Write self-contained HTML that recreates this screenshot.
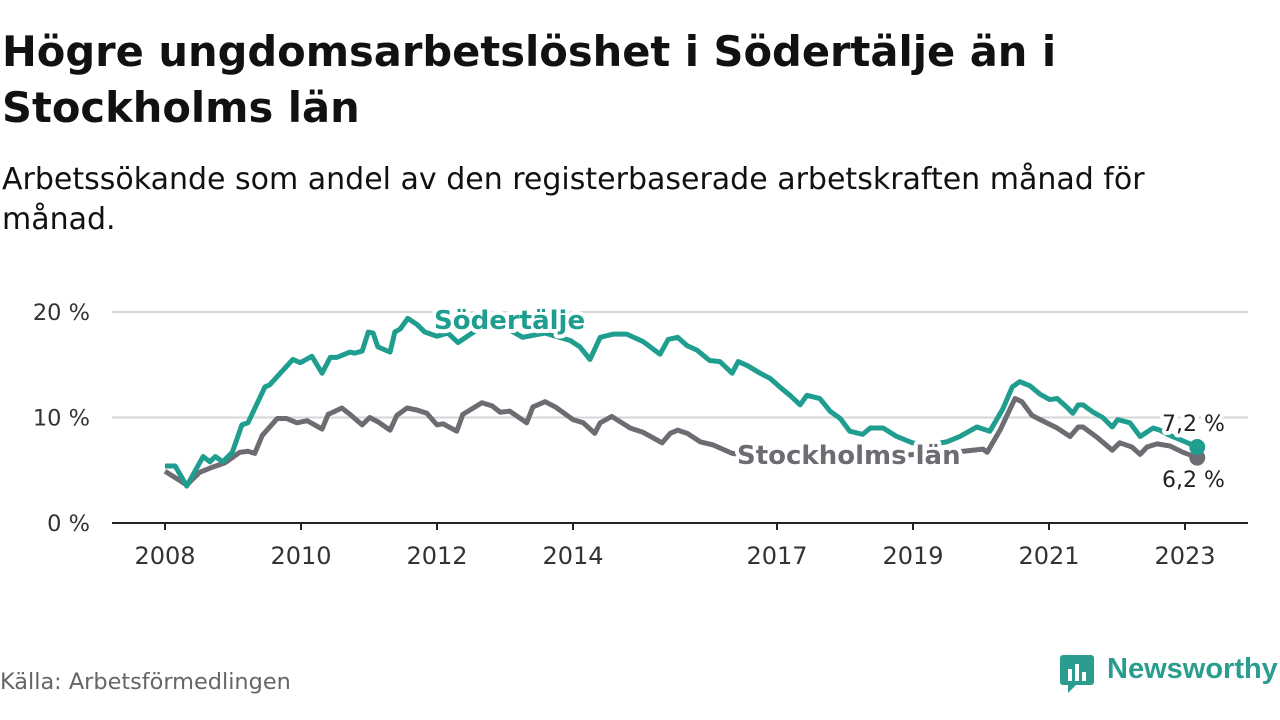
<!DOCTYPE html>
<html><head><meta charset="utf-8">
<style>
body{margin:0;width:1280px;height:720px;background:#fff;font-family:"DejaVu Sans","Liberation Sans",sans-serif;overflow:hidden;position:relative}
h1{position:absolute;left:2px;top:24px;margin:0;font-size:41.6px;line-height:56px;font-weight:bold;color:#111;white-space:nowrap}
.sub{position:absolute;left:2px;top:160px;margin:0;font-size:30px;line-height:40px;color:#111;white-space:nowrap}
.src{position:absolute;left:0;top:669px;font-size:22.4px;color:#666}
.logo{position:absolute;left:1060px;top:655px}
.logo span{position:absolute;left:47px;top:-2px;font-size:29px;font-weight:bold;color:#2a9d8f;font-family:"Liberation Sans",sans-serif}
svg{position:absolute;left:0;top:0}
</style></head><body>
<h1>Högre ungdomsarbetslöshet i Södertälje än i<br>Stockholms län</h1>
<p class="sub">Arbetssökande som andel av den registerbaserade arbetskraften månad för<br>månad.</p>
<svg id="chart" width="1280" height="720"></svg>
<div class="src">Källa: Arbetsförmedlingen</div>
<div class="logo">
<svg width="36" height="38" style="position:relative"><rect x="0" y="0" width="34" height="30" rx="3" fill="#2a9d8f"/><polygon points="8,30 16,30 8,38" fill="#2a9d8f"/><rect x="8" y="14" width="4" height="12" fill="#fff"/><rect x="15" y="9" width="4" height="17" fill="#fff"/><rect x="22" y="17" width="4" height="9" fill="#fff"/></svg>
<span>Newsworthy</span></div>
<script>
const sodDates=[2008.0,2008.15,2008.32,2008.56,2008.66,2008.74,2008.85,2008.99,2009.13,2009.22,2009.47,2009.54,2009.88,2009.99,2010.16,2010.31,2010.43,2010.53,2010.72,2010.79,2010.90,2010.99,2011.06,2011.13,2011.31,2011.38,2011.46,2011.57,2011.71,2011.82,2012.0,2012.16,2012.31,2012.63,2012.93,2013.26,2013.59,2013.96,2014.10,2014.25,2014.40,2014.59,2014.79,2015.03,2015.28,2015.40,2015.54,2015.68,2015.82,2016.01,2016.16,2016.34,2016.43,2016.57,2016.75,2016.90,2017.04,2017.19,2017.34,2017.44,2017.63,2017.78,2017.93,2018.07,2018.26,2018.37,2018.56,2018.76,2018.99,2019.25,2019.50,2019.69,2019.94,2020.13,2020.32,2020.46,2020.57,2020.72,2020.87,2021.01,2021.12,2021.26,2021.35,2021.43,2021.50,2021.65,2021.79,2021.93,2022.01,2022.19,2022.34,2022.53,2022.63,2022.78,2022.93,2023.18];
const sodValues=[5.4,5.4,3.5,6.3,5.8,6.3,5.8,6.7,9.3,9.5,12.9,13.1,15.5,15.2,15.8,14.2,15.7,15.7,16.2,16.1,16.3,18.1,18.0,16.7,16.2,18.1,18.4,19.4,18.8,18.1,17.7,18.0,17.1,18.5,18.8,17.6,18.0,17.3,16.7,15.5,17.6,17.9,17.9,17.2,16.0,17.4,17.6,16.8,16.4,15.4,15.3,14.2,15.3,14.9,14.2,13.7,12.9,12.1,11.2,12.1,11.8,10.6,9.9,8.7,8.4,9.0,9.0,8.2,7.6,7.4,7.7,8.2,9.1,8.7,10.8,12.9,13.4,13.0,12.2,11.7,11.8,11.0,10.4,11.2,11.2,10.5,10.0,9.1,9.8,9.5,8.2,9.0,8.8,8.3,7.9,7.2];
const sthDates=[2008.0,2008.15,2008.32,2008.51,2008.66,2008.88,2009.10,2009.22,2009.32,2009.43,2009.65,2009.79,2009.94,2010.09,2010.31,2010.40,2010.47,2010.60,2010.72,2010.90,2011.01,2011.13,2011.31,2011.41,2011.56,2011.71,2011.85,2012.0,2012.09,2012.29,2012.38,2012.66,2012.81,2012.93,2013.07,2013.32,2013.41,2013.59,2013.74,2014.0,2014.15,2014.32,2014.40,2014.57,2014.84,2015.03,2015.31,2015.43,2015.54,2015.68,2015.87,2016.06,2016.34,2016.75,2017.34,2018.07,2018.81,2019.25,2019.74,2020.03,2020.09,2020.28,2020.50,2020.60,2020.75,2020.87,2021.12,2021.31,2021.43,2021.50,2021.71,2021.93,2022.04,2022.22,2022.34,2022.44,2022.59,2022.78,2022.97,2023.18];
const sthValues=[4.9,4.3,3.6,4.8,5.2,5.7,6.7,6.8,6.6,8.3,9.9,9.9,9.5,9.7,8.9,10.3,10.5,10.9,10.3,9.3,10.0,9.6,8.8,10.2,10.9,10.7,10.4,9.3,9.4,8.7,10.3,11.4,11.1,10.5,10.6,9.5,11.0,11.5,11.0,9.8,9.5,8.5,9.5,10.1,9.0,8.6,7.6,8.5,8.8,8.5,7.7,7.4,6.6,6.3,6.0,6.1,6.4,6.6,6.8,7.0,6.7,8.8,11.8,11.5,10.2,9.8,9.0,8.2,9.1,9.1,8.1,6.9,7.6,7.2,6.5,7.2,7.5,7.3,6.7,6.2];
const yTicks=[0,10,20];
const yTickLabels=["0 %","10 %","20 %"];
const xTicks=[2008,2010,2012,2014,2017,2019,2021,2023];
const NS="http://www.w3.org/2000/svg";
const svg=document.getElementById('chart');
const X=d=>165+(d-2008)*68;
const Y=v=>523-v*10.55;
function mk(t,a,p){const e=document.createElementNS(NS,t);for(const k in a)e.setAttribute(k,a[k]);(p||svg).appendChild(e);return e;}
yTicks.forEach((t,i)=>{
 if(t>0){const g=mk('line',{x1:112,x2:1248,y1:Y(t),y2:Y(t),stroke:'#d6d6d6','stroke-width':2});
 
 }
 const l=mk('text',{x:90,y:Y(t)+8,'text-anchor':'end','font-size':22.5,fill:'#333'});l.textContent=yTickLabels[i];
 
 
});
const ax=mk('line',{x1:112,x2:1248,y1:523,y2:523,stroke:'#222','stroke-width':2});


xTicks.forEach(t=>{
 const tk=mk('line',{x1:X(t),x2:X(t),y1:523,y2:530,stroke:'#222','stroke-width':2});
 
 
 const l=mk('text',{x:X(t),y:564,'text-anchor':'middle','font-size':24,fill:'#333'});l.textContent=t;
 
 
});
function line(ds,vs,c,name){
 const p=mk('polyline',{points:ds.map((d,i)=>X(d)+','+Y(vs[i])).join(' '),fill:'none',stroke:c,'stroke-width':5,'stroke-linejoin':'round'});
 
 
 const n=ds.length-1;
 const c2=mk('circle',{cx:X(ds[n]),cy:Y(vs[n]),r:8,fill:c});
 
 
}
line(sthDates,sthValues,'#6d6c72','stockholm-line');
line(sodDates,sodValues,'#1f9e90','sodertalje-line');
function lab(x,y,txt,c,bold,name,size){
 const t=mk('text',{x:x,y:y,'font-size':size,fill:c,'font-weight':bold?'bold':'normal',stroke:'#fff','stroke-width':8,'paint-order':'stroke','stroke-linejoin':'round'});
 t.textContent=txt;
 
 
}
lab(434,329,'Södertälje','#1f9e90',true,'sodertalje-label',26);
lab(737,464,'Stockholms län','#6d6c72',true,'stockholm-label',26);
lab(1162,431,'7,2 %','#222',false,'sodertalje-value-label',22);
lab(1162,487,'6,2 %','#222',false,'stockholm-value-label',22);
</script>
</body></html>
